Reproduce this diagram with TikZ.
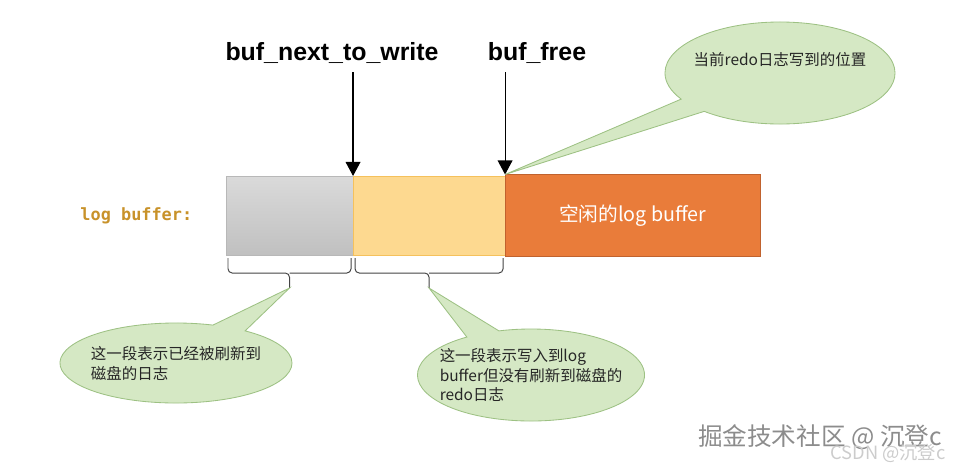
\documentclass[tikz,border=0pt]{standalone}
\usepackage{fontspec}
\setmainfont{Liberation Sans}
\newfontfamily\cjk{Noto Sans CJK SC}
\newfontfamily\codefont{DejaVu Sans Mono}
\usetikzlibrary{arrows.meta,positioning,calc,shapes.callouts}
\definecolor{logGreyTop}{HTML}{DADADA}
\definecolor{logGreyBot}{HTML}{C0C0C0}
\definecolor{logGreyEdge}{HTML}{B8B8B8}
\definecolor{logYellow}{HTML}{FDD990}
\definecolor{logYellowEdge}{HTML}{F5C15C}
\definecolor{logOrange}{HTML}{E97C3A}
\definecolor{logOrangeEdge}{HTML}{C0622E}
\definecolor{logGold}{HTML}{C8922A}
\definecolor{noteGreen}{HTML}{D5E8C4}
\definecolor{noteEdge}{HTML}{9DC183}
\definecolor{braceGrey}{HTML}{444444}
\tikzset{
  >={Triangle[length=10pt,width=10.5pt]},
  seg/.style={draw, outer sep=0pt, inner sep=0pt, minimum height=1.975cm,
              line width=0.7pt},
  ptrlbl/.style={font=\fontsize{17.7pt}{20pt}\selectfont\bfseries, inner sep=2pt},
  ptr/.style={->, draw=black, line width=0.8pt},
  brace/.style={draw=braceGrey, line width=0.7pt, rounded corners=3pt},
  note/.style={ellipse callout, draw=noteEdge, fill=noteGreen, line width=0.6pt,
              inner xsep=-12pt, inner ysep=0pt, align=left, text=black!85,
              font=\cjk\fontsize{11pt}{14.2pt}\selectfont, callout pointer arc=18},
}

\begin{document}
\begin{tikzpicture}[x=0.025cm, y=0.025cm, node distance=0pt]
  \useasboundingbox (0,0) rectangle (960,-469);
  % the three parts of the buffer
  \node[seg, anchor=north west, minimum width=3.175cm, draw=logGreyEdge,
        top color=logGreyTop, bottom color=logGreyBot] (flushed) at (226,-176) {};
  \node[seg, right=of flushed, minimum width=3.8cm, draw=logYellowEdge,
        fill=logYellow] (unflushed) {};
  \node[seg, right=of unflushed, minimum width=6.375cm, minimum height=2.05cm,
        draw=logOrangeEdge, fill=logOrange, text=white,
        font=\cjk\fontsize{14pt}{16pt}\selectfont] (free) {空闲的log buffer};
  \node[left=0.72cm of flushed, text=logGold,
        font=\codefont\bfseries\fontsize{12pt}{14pt}\selectfont] (bufname) {log buffer:};

  % pointers
  \node[ptrlbl] (nextlbl) at (332,-53) {buf\_next\_to\_write};
  \node[ptrlbl] (freelbl) at (537,-53) {buf\_free};
  \draw[ptr] ([yshift=-4pt]nextlbl.south -| unflushed.north west) -- (unflushed.north west);
  \draw[ptr] ([yshift=-4pt]freelbl.south -| free.north west) -- (free.north west);

  % braces under the written parts
  \coordinate (tipA) at ($(flushed.south)+(0,-33)$);
  \coordinate (tipB) at ($(unflushed.south)+(0,-33)$);
  \draw[brace] ($(flushed.south west)+(2,-3)$) |- ($(flushed.south)+(0,-18)$) -- (tipA);
  \draw[brace] ($(flushed.south east)+(-2,-3)$) |- ($(flushed.south)+(0,-18)$);
  \draw[brace] ($(unflushed.south west)+(2,-3)$) |- ($(unflushed.south)+(0,-18)$) -- (tipB);
  \draw[brace] ($(unflushed.south east)+(-2,-3)$) |- ($(unflushed.south)+(0,-18)$);

  % notes
  \node[note, minimum width=5.75cm, minimum height=2.55cm,
        callout absolute pointer={(free.north west)}] (curnote) at (780,-73)
       {当前redo日志写到的位置\\[6pt]};
  \node[note, minimum width=5.8cm, minimum height=2.0cm,
        callout absolute pointer={(tipA)}] (flushnote) at (176,-363)
       {这一段表示已经被刷新到\\磁盘的日志};
  \node[note, minimum width=5.675cm, minimum height=2.3cm,
        callout absolute pointer={(tipB)}] (bufnote) at (531,-375)
       {这一段表示写入到log\\buffer但没有刷新到磁盘的\\redo日志};

  % watermarks
  \node[text=black!45, font=\cjk\fontsize{17.5pt}{20pt}\selectfont] (mark) at (820,-437)
       {掘金技术社区 @ 沉登c};
  \node[text=black!20, font=\cjk\fontsize{13pt}{15pt}\selectfont] (csdn) at (888,-453)
       {CSDN @沉登c};
\end{tikzpicture}
\end{document}
